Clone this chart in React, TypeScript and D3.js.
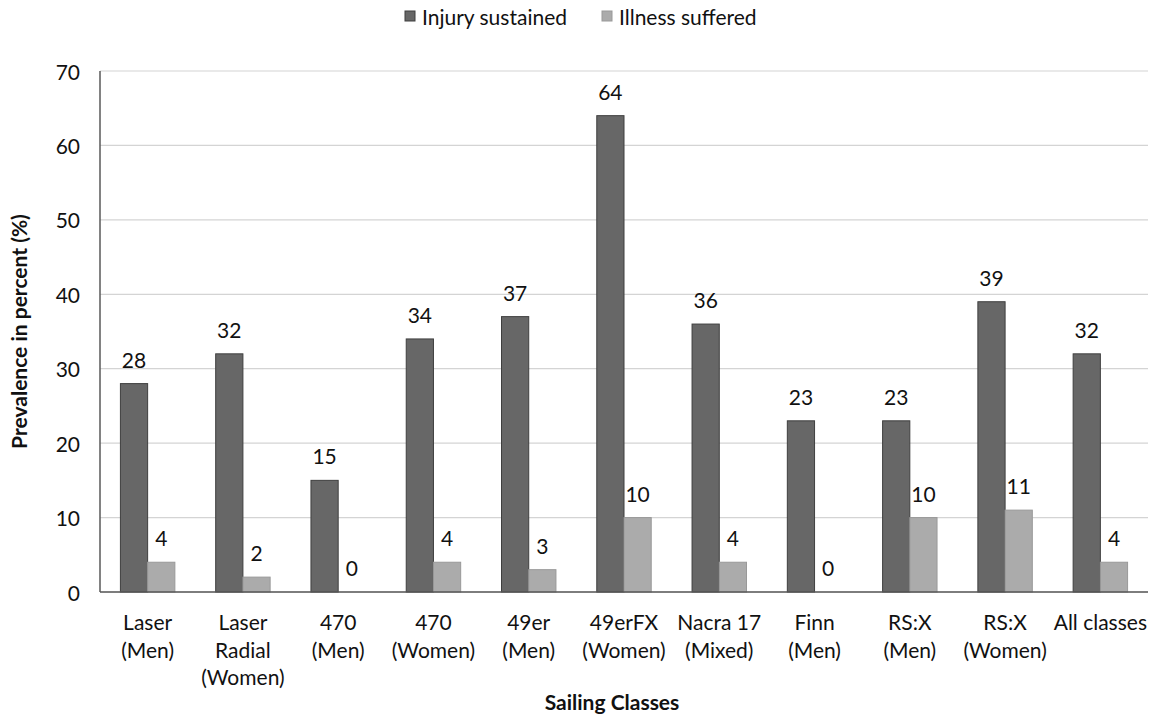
import React from "react";
import * as d3 from "d3";

const categories: string[][] = [
  ["Laser", "(Men)"],
  ["Laser", "Radial", "(Women)"],
  ["470", "(Men)"],
  ["470", "(Women)"],
  ["49er", "(Men)"],
  ["49erFX", "(Women)"],
  ["Nacra 17", "(Mixed)"],
  ["Finn", "(Men)"],
  ["RS:X", "(Men)"],
  ["RS:X", "(Women)"],
  ["All classes"],
];
const injury = [28, 32, 15, 34, 37, 64, 36, 23, 23, 39, 32];
const illness = [4, 2, 0, 4, 3, 10, 4, 0, 10, 11, 4];
const seriesNames = ["Injury sustained", "Illness suffered"];
const yTicks = [0, 10, 20, 30, 40, 50, 60, 70];

const W = 1157;
const H = 717;
const M = { left: 100, right: 1148, top: 71, bottom: 592 };
const FONT = "Lato, 'Open Sans', sans-serif";
const FS = 21;
const fills = ["#676767", "#ababab"];
const strokes = ["#3f3f3f", "#999999"];

export default function App() {
  const x = d3
    .scaleBand<number>()
    .domain(d3.range(categories.length))
    .range([M.left, M.right]);
  const y = d3.scaleLinear().domain([0, 70]).range([M.bottom, M.top]);
  const bw = x.bandwidth();
  const barW = bw / 3.5;
  const series = [injury, illness];

  return (
    <svg
      width={W}
      height={H}
      style={{ position: "absolute", left: 0, top: 0, background: "#fff" }}
      fontFamily={FONT}
    >
      {yTicks.map((t) => (
        <line
          key={t}
          x1={M.left}
          x2={M.right}
          y1={y(t)}
          y2={y(t)}
          stroke="#d4d4d4"
          strokeWidth={1.2}
        />
      ))}
      {yTicks.map((t) => (
        <text
          key={"yt" + t}
          x={80}
          y={y(t)}
          textAnchor="end"
          dominantBaseline="central"
          fontSize={FS}
          fill="#111"
        >
          {t}
        </text>
      ))}
      {series.map((vals, si) =>
        vals.map((v, i) => {
          const cx = (x(i) as number) + bw / 2;
          const bx = si === 0 ? cx - barW : cx;
          return (
            <g key={si + "-" + i}>
              <rect
                x={bx}
                y={y(v)}
                width={barW}
                height={y(0) - y(v)}
                fill={fills[si]}
                stroke={strokes[si]}
                strokeWidth={1}
              />
              <text
                x={bx + barW / 2}
                y={y(v) - 16}
                textAnchor="middle"
                fontSize={FS}
                fill="#111"
              >
                {v}
              </text>
            </g>
          );
        })
      )}
      <line x1={M.left} x2={M.left} y1={M.top} y2={M.bottom} stroke="#595959" strokeWidth={1.5} />
      <line x1={M.left} x2={M.right} y1={M.bottom} y2={M.bottom} stroke="#595959" strokeWidth={1.5} />
      {categories.map((lines, i) => (
        <text
          key={"xl" + i}
          x={(x(i) as number) + bw / 2}
          textAnchor="middle"
          fontSize={FS}
          fill="#111"
        >
          {lines.map((l, j) => (
            <tspan key={j} x={(x(i) as number) + bw / 2} y={630 + j * 27.5}>
              {l}
            </tspan>
          ))}
        </text>
      ))}
      <text x={612} y={710} textAnchor="middle" fontSize={FS} fontWeight="bold" fill="#111">
        Sailing Classes
      </text>
      <text
        transform={`translate(27,${(M.top + M.bottom) / 2}) rotate(-90)`}
        textAnchor="middle"
        fontSize={FS}
        fontWeight="bold"
        fill="#111"
      >
        Prevalence in percent (%)
      </text>
      {seriesNames.map((n, i) => {
        const lx = i === 0 ? 405 : 602;
        return (
          <g key={n}>
            <rect x={lx} y={11} width={10} height={10} fill={fills[i]} stroke={strokes[i]} />
            <text x={lx + 17} y={16} dominantBaseline="central" fontSize={FS} fill="#111">
              {n}
            </text>
          </g>
        );
      })}
    </svg>
  );
}
